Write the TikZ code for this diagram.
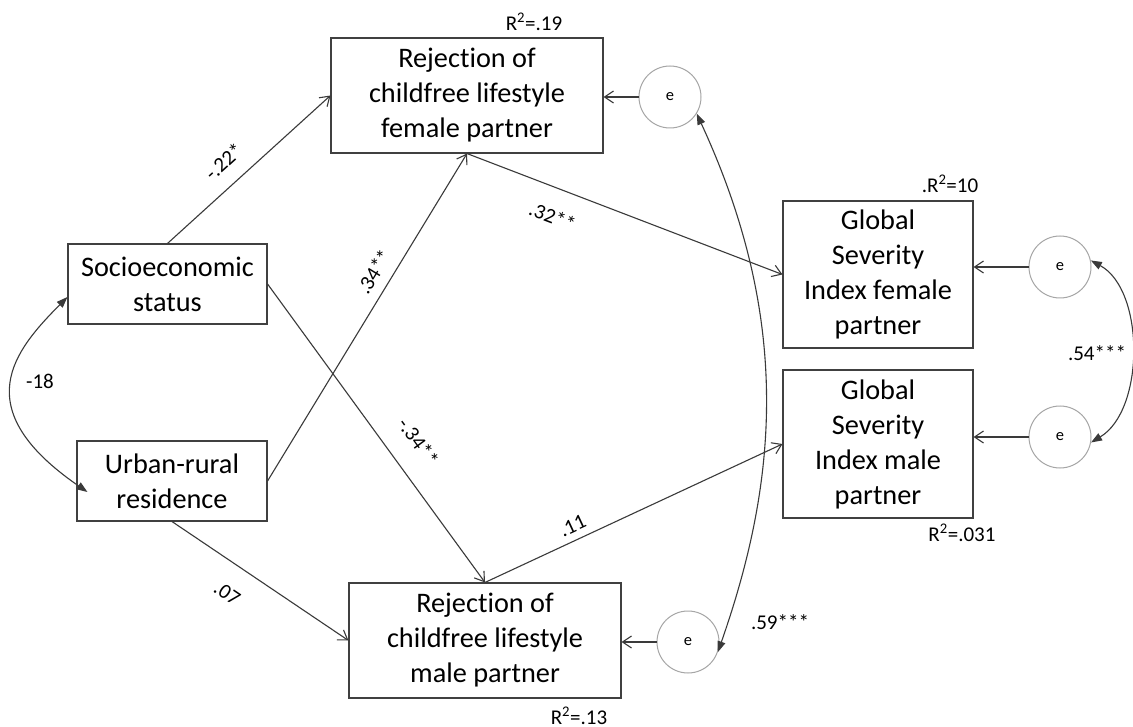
\documentclass[tikz,border=0pt]{standalone}
\usepackage{fontspec}
\setmainfont[Ligatures=NoCommon]{Carlito}
\usetikzlibrary{arrows.meta,calc}
\definecolor{boxc}{HTML}{404040}
\definecolor{linec}{HTML}{3A3A3A}
\definecolor{errc}{HTML}{A6A6A6}
\begin{document}
\begin{tikzpicture}[x=1pt,y=-1pt,
  box/.style={draw=boxc, line width=1.1pt, align=center, inner sep=0pt, font=\fontsize{28.3}{35}\selectfont, text=black},
  err/.style={circle, draw=errc, line width=1pt, minimum size=62pt, inner sep=0pt, font=\fontsize{16.5}{19}\selectfont},
  path/.style={draw=linec, line width=1.1pt, -{Straight Barb[length=9pt,width=12pt]}},
  cov/.style={draw=linec, line width=1.1pt, {Triangle[length=11pt,width=8pt]}-{Triangle[length=11pt,width=8pt]}},
  lbl/.style={font=\fontsize{21}{25}\selectfont, inner sep=2pt, text=black},
]
\path[use as bounding box, fill=white] (0,0) rectangle (1133,727);

% boxes
\node[box, minimum width=272pt, minimum height=115pt] (rf) at (467,95.5) {Rejection of\\childfree lifestyle\\female partner};
\node[box, minimum width=199pt, minimum height=80pt] (ses) at (167.5,284) {Socioeconomic\\status};
\node[box, minimum width=190pt, minimum height=80pt] (urb) at (172,481) {Urban-rural\\residence};
\node[box, minimum width=190pt, minimum height=147pt] (gf) at (878,274.5) {Global\\Severity\\Index female\\partner};
\node[box, minimum width=190pt, minimum height=148pt] (gm) at (878,444) {Global\\Severity\\Index male\\partner};
\node[box, minimum width=272pt, minimum height=115pt] (rm) at (485,640.5) {Rejection of\\childfree lifestyle\\male partner};

% error terms
\node[err] (e1) at (670,97) {e};
\node[err] (e2) at (1060,267) {e};
\node[err] (e3) at (1060,437) {e};
\node[err] (e4) at (688,642) {e};

% paths
\draw[path] (ses.north) -- (rf.west) node[lbl,pos=0.44,sloped,above=13pt] (l1) {-.22*};
\draw[path] (ses.east) -- (rm.north) node[lbl,pos=0.586,sloped,above=19pt] (l2) {-.34**};
\draw[path] (urb.east) -- (rf.south) node[lbl,pos=0.611,sloped,above=8pt] (l3) {.34**};
\draw[path] (rf.south) -- (gf.west) node[lbl,pos=0.303,sloped,below=18pt] (l4) {.32**};
\draw[path] (rm.north) -- (gm.west) node[lbl,pos=0.315,sloped,above=5pt] (l5) {.11};
\draw[path] (urb.south) -- (rm.west) node[lbl,pos=0.403,sloped,below=19pt] (l6) {.07};

% error arrows
\draw[path] (e1.west) -- (e1.west -| rf.east);
\draw[path] (e2.west) -- (e2.west -| gf.east);
\draw[path] (e3.west) -- (e3.west -| gm.east);
\draw[path] (e4.west) -- (e4.west -| rm.east);

% covariances
\draw[cov] ([yshift=-13pt]ses.west) .. controls (14.7,350.3) and (-34.6,408) .. ([shift={(11,11)}]urb.west);
\draw[cov] (e1.-32) .. controls (793,322) and (777,483) .. (e4.-19);
\draw[cov] (e2.12) .. controls (1145,290) and (1145,410) .. (e3.-10);

% labels
\node[lbl] (r1) at (534,22) {R\textsuperscript{2}=.19};
\node[lbl] (r2) at (950,184) {.R\textsuperscript{2}=10};
\node[lbl] (r3) at (962,533) {R\textsuperscript{2}=.031};
\node[lbl] (r4) at (579,716) {R\textsuperscript{2}=.13};
\node[lbl] (c1) at (1097,353) {.54***};
\node[lbl] (c2) at (780,622) {.59***};
\node[lbl] (c0) at (40,381) {-18};
\end{tikzpicture}
\end{document}
